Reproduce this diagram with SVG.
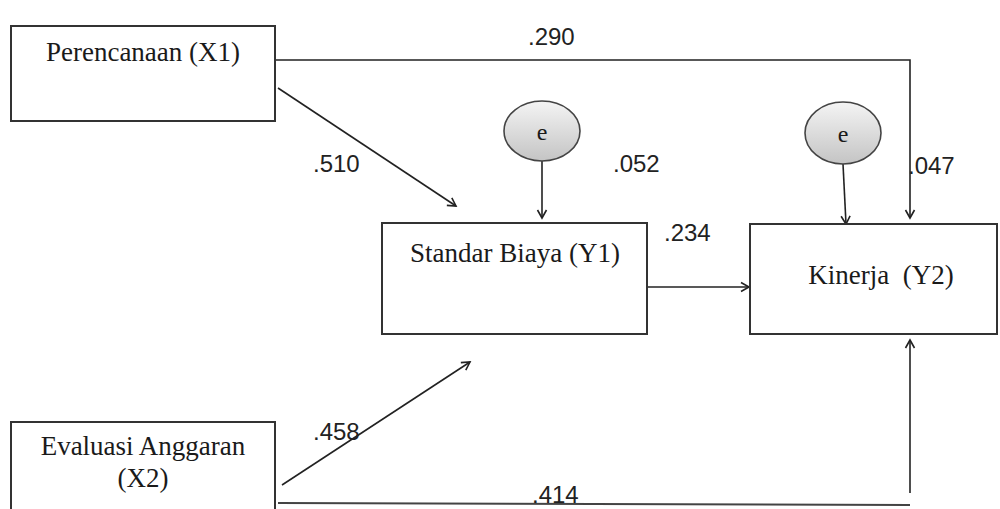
<svg xmlns="http://www.w3.org/2000/svg" width="1000" height="509" viewBox="0 0 1000 509">
<defs>
<marker id="arr" markerWidth="12" markerHeight="12" refX="10" refY="6" orient="auto" markerUnits="userSpaceOnUse">
<path d="M2,1.5 L10,6 L2,10.5" fill="none" stroke="#222" stroke-width="1.6"/>
</marker>
<linearGradient id="eg" x1="0" y1="0" x2="0" y2="1">
<stop offset="0" stop-color="#f4f4f4"/>
<stop offset="1" stop-color="#c4c4c4"/>
</linearGradient>
<style>
.box{fill:#fff;stroke:#333;stroke-width:2}
.lbl{font-family:"Liberation Serif",serif;font-size:27px;fill:#1a1a1a;text-anchor:middle;white-space:pre}
.num{font-family:"Liberation Sans",sans-serif;font-size:24px;fill:#222}
.ln{fill:none;stroke:#222;stroke-width:1.6}
.err{fill:url(#eg);stroke:#444;stroke-width:1.6}
.e{font-family:"Liberation Serif",serif;font-size:24px;fill:#1a1a1a;text-anchor:middle}
</style>
</defs>
<rect width="1000" height="509" fill="#fff"/>
<g id="connectors">
<polyline class="ln" points="270,60 910,60 910,218" marker-end="url(#arr)"/>
<line class="ln" x1="278" y1="88" x2="456" y2="206" marker-end="url(#arr)"/>
<line class="ln" x1="542" y1="161" x2="542" y2="218" marker-end="url(#arr)"/>
<line class="ln" x1="843" y1="164" x2="846" y2="224" marker-end="url(#arr)"/>
<line class="ln" x1="647" y1="287" x2="749" y2="287" marker-end="url(#arr)"/>
<line class="ln" x1="282" y1="485" x2="470" y2="362" marker-end="url(#arr)"/>
<line x1="278" y1="503" x2="910" y2="505" stroke="#444" stroke-width="2"/>
<line class="ln" x1="910" y1="493" x2="910" y2="340" marker-end="url(#arr)"/>
<text class="num" x="528" y="45">.290</text>
<text class="num" x="313" y="172">.510</text>
<text class="num" x="613" y="172">.052</text>
<text class="num" x="908" y="174">.047</text>
<text class="num" x="664" y="241">.234</text>
<text class="num" x="313" y="440">.458</text>
<text class="num" x="532" y="503">.414</text>
</g>
<g id="x1">
<rect class="box" x="11" y="26" width="264" height="95"/>
<text class="lbl" x="143" y="61">Perencanaan (X1)</text>
</g>
<g id="y1">
<rect class="box" x="382" y="223" width="265" height="111"/>
<text class="lbl" x="515" y="262">Standar Biaya (Y1)</text>
</g>
<g id="y2">
<rect class="box" x="750" y="224" width="247" height="110"/>
<text class="lbl" x="881" y="284" xml:space="preserve">Kinerja  (Y2)</text>
</g>
<g id="x2">
<rect class="box" x="11" y="422" width="264" height="100"/>
<text class="lbl" x="143" y="455">Evaluasi Anggaran</text>
<text class="lbl" x="143" y="487">(X2)</text>
</g>
<g id="e1">
<ellipse class="err" cx="542" cy="131" rx="38" ry="30"/>
<text class="e" x="542" y="140">e</text>
</g>
<g id="e2">
<ellipse class="err" cx="843" cy="133" rx="38" ry="31"/>
<text class="e" x="843" y="142">e</text>
</g>
</svg>
